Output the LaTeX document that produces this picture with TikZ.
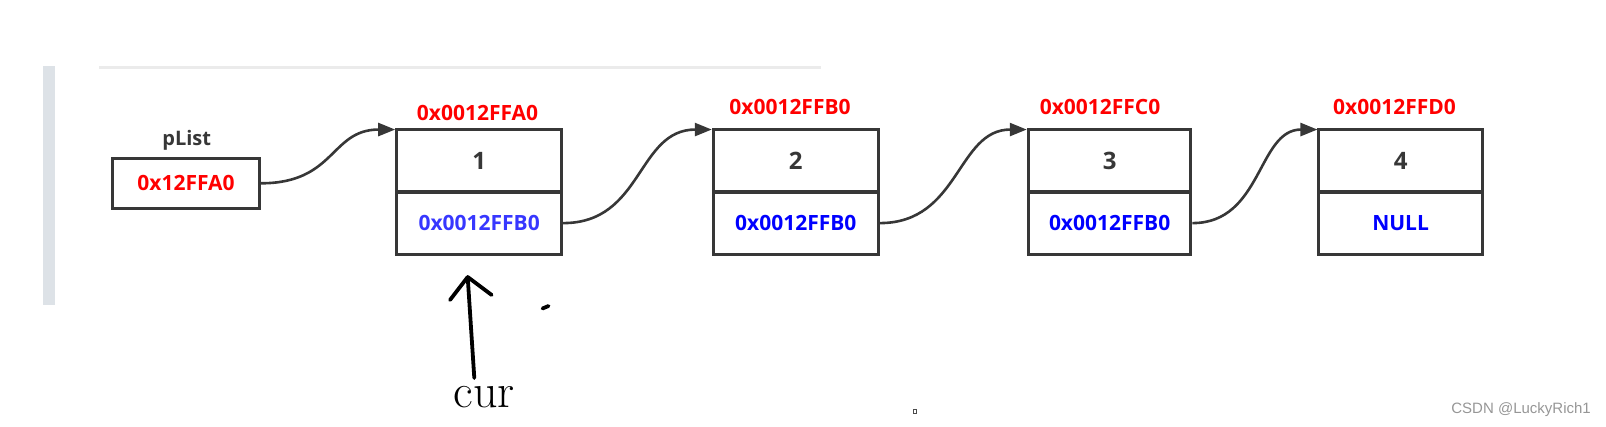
\documentclass[tikz,border=0pt]{standalone}
\usepackage{fontspec}
\setmainfont{Open Sans}
\newfontfamily\curfont{Latin Modern Roman}
\newfontfamily\wmfont{Liberation Sans}
\usetikzlibrary{arrows.meta}
\definecolor{boxline}{RGB}{55,55,55}
\definecolor{addrred}{RGB}{255,0,0}
\definecolor{ptrblue}{RGB}{0,0,255}
\definecolor{ptrblueA}{RGB}{55,55,255}
\definecolor{barcol}{RGB}{221,226,231}
\definecolor{rulecol}{RGB}{235,235,235}
\definecolor{wmgray}{RGB}{150,150,150}
\tikzset{
  cell/.style={draw=boxline, line width=3pt, rectangle, inner sep=0pt, minimum height=62.5pt},
  datatxt/.style={font=\fontsize{24}{24}\selectfont\bfseries, text=boxline},
  addrlbl/.style={font=\fontsize{21}{21}\selectfont\bfseries, text=addrred, inner sep=0pt},
  ptrtxt/.style={font=\fontsize{21}{21}\selectfont\bfseries, text=ptrblue},
  link/.style={draw=boxline, line width=2.6pt, -{Triangle[length=17pt,width=13pt]}},
  hand/.style={draw=black, line width=3.8pt, line cap=round, line join=round}
}
\begin{document}
\begin{tikzpicture}[x=1pt,y=-1pt]
\useasboundingbox (0,0) rectangle (1606,427);
% page decorations
\fill[barcol] (43,66) rectangle (55,304.7);
\fill[rulecol] (99,66) rectangle (821,69);
% pList
\node[font=\fontsize{20}{20}\selectfont\bfseries, text=boxline, inner sep=0pt] (plbl) at (186.7,140) {pList};
\node[draw=boxline, line width=3pt, rectangle, inner sep=0pt, minimum width=146.6pt, minimum height=50pt,
      font=\fontsize{21}{21}\selectfont\bfseries, text=addrred] (plist) at (186,183.3) {0x12FFA0};
% node 1
\node[cell, minimum width=165pt, datatxt] (d1) at (479.2,160.8) {1};
\node[cell, minimum width=165pt, ptrtxt, text=ptrblueA] (p1) at (479.2,223.1) {0x0012FFB0};
\node[addrlbl] (a1) at (477.5,113.3) {0x0012FFA0};
% node 2
\node[cell, minimum width=165pt, datatxt] (d2) at (795.8,160.8) {2};
\node[cell, minimum width=165pt, ptrtxt] (p2) at (795.8,223.1) {0x0012FFB0};
\node[addrlbl] (a2) at (790,107.3) {0x0012FFB0};
% node 3
\node[cell, minimum width=162.7pt, datatxt] (d3) at (1109.6,160.8) {3};
\node[cell, minimum width=162.7pt, ptrtxt] (p3) at (1109.6,223.1) {0x0012FFB0};
\node[addrlbl] (a3) at (1100,107.3) {0x0012FFC0};
% node 4
\node[cell, minimum width=163.3pt, datatxt] (d4) at (1400.6,160.8) {4};
\node[cell, minimum width=163.3pt, ptrtxt] (p4) at (1400.6,223.1) {NULL};
\node[addrlbl] (a4) at (1394.5,106.7) {0x0012FFD0};
% links
\draw[link] (plist.east) .. controls +(75,0) and +(-65,0) .. ([yshift=-1.5pt]d1.north west);
\draw[link] (p1.east) .. controls +(80,0) and +(-75,0) .. ([yshift=-1.5pt]d2.north west);
\draw[link] (p2.east) .. controls +(80,0) and +(-70,0) .. ([yshift=-1.5pt]d3.north west);
\draw[link] (p3.east) .. controls +(70,0) and +(-60,0) .. ([yshift=-1.5pt]d4.north west);
% hand-drawn cur pointer
\coordinate (curtip) at (467.7,277);
\coordinate (curbase) at (474.3,378);
\draw[hand] (curbase) -- (curtip);
\draw[hand] (450,300) -- (curtip) -- (491.7,295);
\draw[hand] (542.5,308.5) -- (548.5,306);
\node[font=\curfont\fontsize{48}{48}\selectfont, text=black, inner sep=0pt] (cur) at (484.2,397.5) {cur};
% tiny square
\draw[line width=0.8pt, draw=black!70] (913,409.5) rectangle (916.5,413.2);
% watermark
\node[anchor=east, font=\wmfont\fontsize{15}{15}\selectfont, text=wmgray, inner sep=0pt] (wm) at (1591,410) {CSDN @LuckyRich1};
\end{tikzpicture}
\end{document}
